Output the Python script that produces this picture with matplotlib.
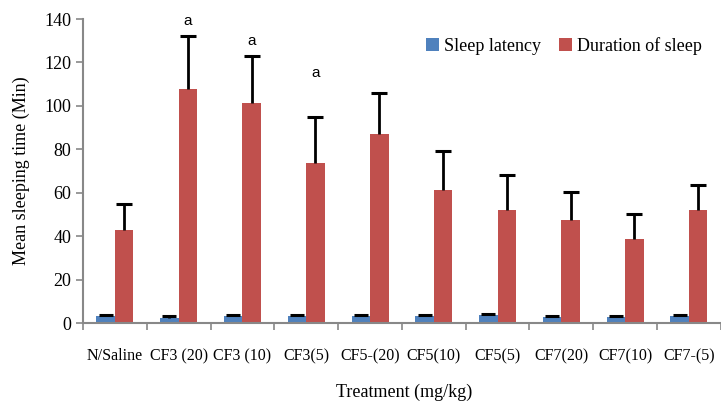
import numpy as np
import matplotlib.pyplot as plt

categories = ["N/Saline", "CF3 (20)", "CF3 (10)", "CF3(5)", "CF5-(20)", "CF5(10)",
              "CF5(5)", "CF7(20)", "CF7(10)", "CF7-(5)"]
latency = [3.3, 2.5, 3.2, 3.0, 3.0, 3.2, 3.5, 2.8, 2.8, 3.0]
latency_err = [0.5, 0.5, 0.5, 0.5, 0.5, 0.5, 0.5, 0.5, 0.5, 0.5]
duration = [42.8, 107.8, 101.2, 73.5, 87.0, 61.2, 52.2, 47.5, 38.5, 52.0]
duration_err = [12.0, 24.5, 22.0, 21.5, 19.0, 18.0, 16.0, 13.0, 11.5, 11.5]
sig_labels = {1: 139, 2: 130, 3: 115}

plt.rcParams["font.family"] = ["Liberation Serif", "DejaVu Serif"]

fig = plt.figure(figsize=(7.21, 4.01), dpi=100)
ax = fig.add_axes([0.1151, 0.1945, 0.890, 0.758])

x = np.arange(len(categories))
w = 0.29
n = len(categories)
ax.bar(x - w / 2, latency, w, color="#4f81bd", label="Sleep latency")
ax.bar(x + w / 2, duration, w, color="#c0504d", label="Duration of sleep")

# upper-only error bars (hide the lower caps)
for xs, ys, errs, cap in [(x - w / 2, latency, latency_err, 5),
                          (x + w / 2, duration, duration_err, 6)]:
    _, caps, _ = ax.errorbar(xs, ys, yerr=[[0] * n, errs], fmt="none",
                             ecolor="black", elinewidth=2, capsize=cap,
                             capthick=2.2)
    caps[0].set_visible(False)

for i, yv in sig_labels.items():
    ax.text(i + w / 2, yv, "a", ha="center", va="center", fontsize=11,
            family="Liberation Sans")

ax.set_xlim(-0.5, n - 0.44)
ax.set_ylim(0, 140)
ax.set_yticks(range(0, 141, 20))
ax.set_xticks(np.arange(-0.5, n, 1.0), minor=False)
ax.set_xticklabels([])
ax.set_xticks(x, minor=True)
ax.set_xticklabels(categories, minor=True, fontsize=11.5)
ax.tick_params(axis="x", which="minor", length=0, pad=18)
ax.tick_params(axis="x", which="major", length=5, color="#888888", width=1.2)
ax.tick_params(axis="y", length=5, color="#888888", width=1.2, labelsize=13)

for s in ["top", "right"]:
    ax.spines[s].set_visible(False)
for s in ["left", "bottom"]:
    ax.spines[s].set_color("#888888")
    ax.spines[s].set_linewidth(1.5)

ax.set_ylabel("Mean sleeping time (Min)", fontsize=13, labelpad=10)
ax.set_xlabel("Treatment (mg/kg)", fontsize=13, labelpad=14)

ax.legend(loc="upper right", bbox_to_anchor=(0.99, 0.995), ncol=2, frameon=False,
          fontsize=13, handlelength=0.7, handleheight=0.7, handletextpad=0.3,
          columnspacing=1.0)

fig.savefig("out.png", dpi=100)
